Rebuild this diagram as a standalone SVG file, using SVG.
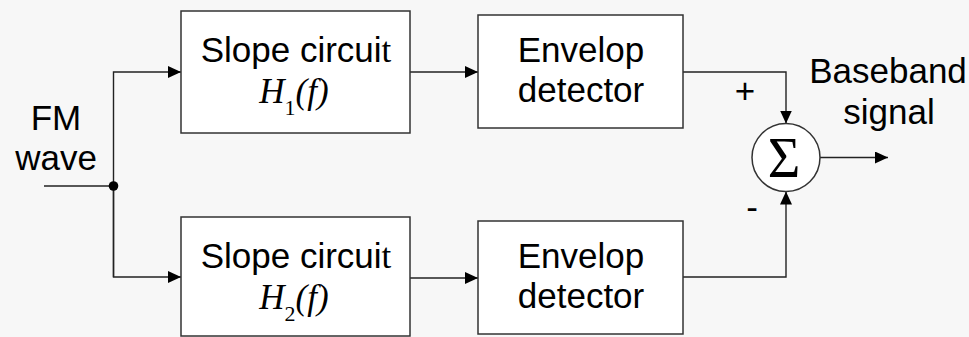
<svg xmlns="http://www.w3.org/2000/svg" width="969" height="337" viewBox="0 0 969 337">
  <style>
    .box { fill: #ffffff; stroke: #333333; stroke-width: 1.5; }
    .wire { fill: none; stroke: #222222; stroke-width: 1.4; }
    .sans { font-family: "Liberation Sans", Arial, sans-serif; font-size: 35px; fill: #000000; text-anchor: middle; }
    .math { font-family: "Liberation Serif", "Times New Roman", serif; font-size: 35px; font-style: italic; fill: #000000; text-anchor: middle; }
    .sub { font-style: normal; font-size: 22px; }
  </style>
  <defs>
    <marker id="arrow" markerUnits="userSpaceOnUse" markerWidth="14" markerHeight="12" refX="13" refY="6" orient="auto">
      <path d="M0,0 L13,6 L0,12 Z" fill="#000000"/>
    </marker>
  </defs>

  <rect x="0" y="0" width="969" height="337" fill="#f7f7f7"/>

  <!-- signal paths -->
  <g id="connectors">
    <line class="wire" x1="44" y1="186" x2="113.5" y2="186"/>
    <polyline class="wire" points="113.5,277 113.5,72 181,72" marker-end="url(#arrow)"/>
    <polyline class="wire" points="113.5,186 113.5,277 181,277" marker-end="url(#arrow)"/>
    <line class="wire" x1="410" y1="72" x2="478" y2="72" marker-end="url(#arrow)"/>
    <line class="wire" x1="410" y1="278" x2="478" y2="278" marker-end="url(#arrow)"/>
    <polyline class="wire" points="683,72 786,72 786,123.5" marker-end="url(#arrow)"/>
    <polyline class="wire" points="683,277 786,277 786,191.5" marker-end="url(#arrow)"/>
    <line class="wire" x1="820" y1="157.5" x2="888" y2="157.5" marker-end="url(#arrow)"/>
    <circle cx="113.5" cy="186" r="4.8" fill="#000000"/>
  </g>

  <!-- input label -->
  <g id="input">
    <text class="sans" x="56" y="130">FM</text>
    <text class="sans" x="56" y="170">wave</text>
  </g>

  <g id="slope1">
    <rect class="box" x="181" y="11" width="229" height="122"/>
    <text class="sans" x="296" y="62">Slope circui<tspan font-family="Liberation Serif, serif">t</tspan></text>
    <text class="math" x="294" y="103">H<tspan class="sub" dy="12">1</tspan><tspan dy="-12">(f)</tspan></text>
  </g>

  <g id="slope2">
    <rect class="box" x="181" y="217" width="229" height="119"/>
    <text class="sans" x="296" y="268">Slope circui<tspan font-family="Liberation Serif, serif">t</tspan></text>
    <text class="math" x="294" y="309">H<tspan class="sub" dy="12">2</tspan><tspan dy="-12">(f)</tspan></text>
  </g>

  <g id="envelope1">
    <rect class="box" x="478" y="15" width="205" height="113"/>
    <text class="sans" x="581" y="62">Envelop</text>
    <text class="sans" x="581" y="102">detector</text>
  </g>

  <g id="envelope2">
    <rect class="box" x="478" y="221" width="205" height="113"/>
    <text class="sans" x="581" y="268">Envelop</text>
    <text class="sans" x="581" y="308">detector</text>
  </g>

  <g id="summer">
    <circle class="box" cx="786" cy="157.5" r="34"/>
    <text x="784" y="177" font-family="Liberation Serif, 'Times New Roman', serif" font-size="56" text-anchor="middle">Σ</text>
    <text class="sans" x="745" y="103">+</text>
    <text class="sans" x="752" y="219">-</text>
  </g>

  <g id="output">
    <text class="sans" x="888" y="83">Baseband</text>
    <text class="sans" x="889" y="124">signal</text>
  </g>
</svg>
